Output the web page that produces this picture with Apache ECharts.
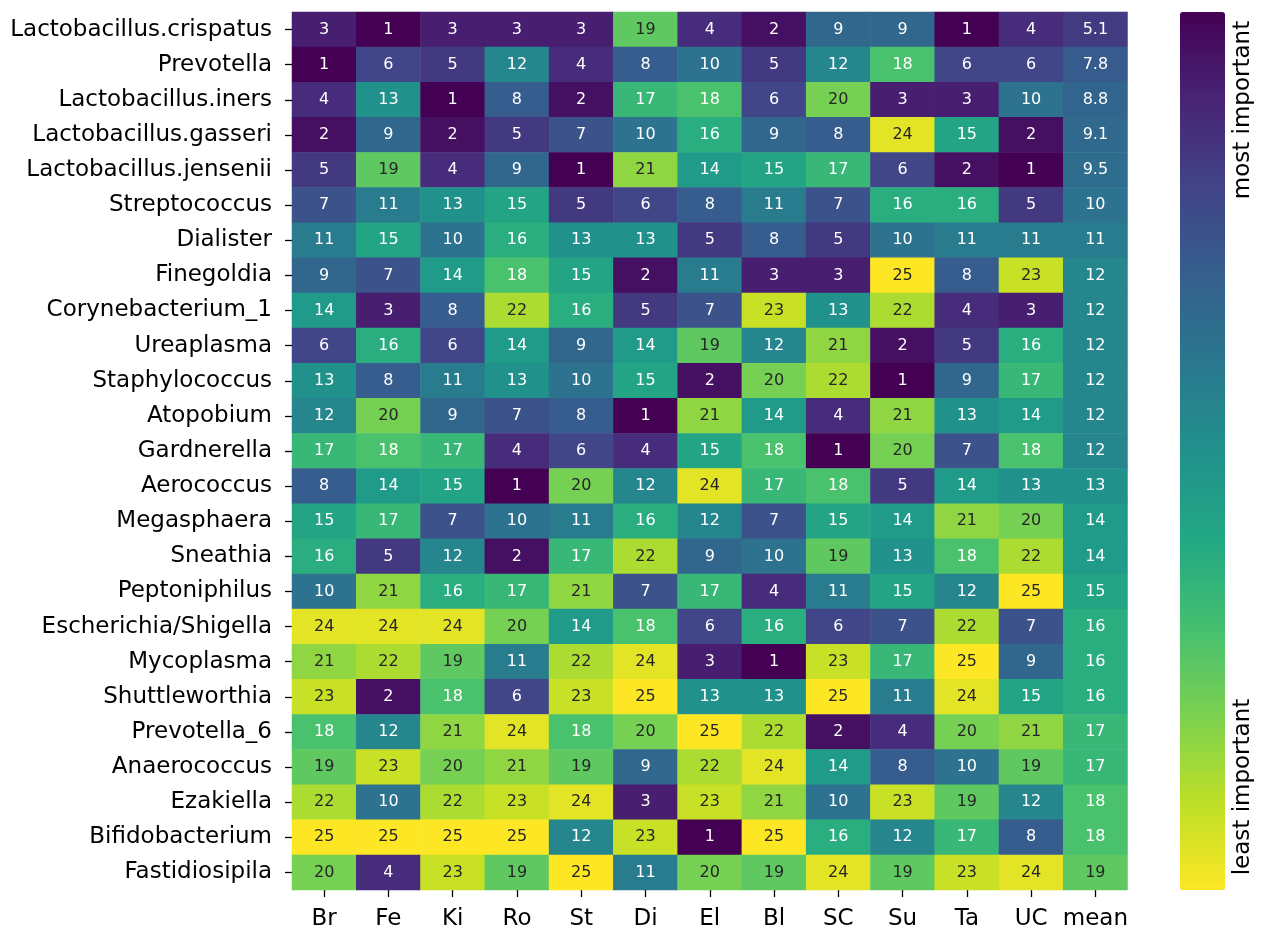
<!DOCTYPE html>
<html>
<head>
<meta charset="utf-8">
<title>Taxa importance ranks</title>
<script src="https://cdn.jsdelivr.net/npm/echarts@6/dist/echarts.min.js"></script>
<style>
  html, body { margin: 0; padding: 0; background: #ffffff; }
  #chart { width: 1263px; height: 931px; }
</style>
</head>
<body>
<div id="chart"></div>
<script>
// Taxa, listed from most to least important on average
const taxa = [
  'Lactobacillus.crispatus', 'Prevotella', 'Lactobacillus.iners', 'Lactobacillus.gasseri',
  'Lactobacillus.jensenii', 'Streptococcus', 'Dialister', 'Finegoldia', 'Corynebacterium_1',
  'Ureaplasma', 'Staphylococcus', 'Atopobium', 'Gardnerella', 'Aerococcus', 'Megasphaera',
  'Sneathia', 'Peptoniphilus', 'Escherichia/Shigella', 'Mycoplasma', 'Shuttleworthia',
  'Prevotella_6', 'Anaerococcus', 'Ezakiella', 'Bifidobacterium', 'Fastidiosipila'
];

// Study sites (columns), followed by the mean column
const sites = ['Br', 'Fe', 'Ki', 'Ro', 'St', 'Di', 'El', 'Bl', 'SC', 'Su', 'Ta', 'UC'];
const columns = sites.concat(['mean']);

// Importance rank of each taxon at each site (one row per taxon, columns follow `sites`)
const ranks = [
  [3, 1, 3, 3, 3, 19, 4, 2, 9, 9, 1, 4],
  [1, 6, 5, 12, 4, 8, 10, 5, 12, 18, 6, 6],
  [4, 13, 1, 8, 2, 17, 18, 6, 20, 3, 3, 10],
  [2, 9, 2, 5, 7, 10, 16, 9, 8, 24, 15, 2],
  [5, 19, 4, 9, 1, 21, 14, 15, 17, 6, 2, 1],
  [7, 11, 13, 15, 5, 6, 8, 11, 7, 16, 16, 5],
  [11, 15, 10, 16, 13, 13, 5, 8, 5, 10, 11, 11],
  [9, 7, 14, 18, 15, 2, 11, 3, 3, 25, 8, 23],
  [14, 3, 8, 22, 16, 5, 7, 23, 13, 22, 4, 3],
  [6, 16, 6, 14, 9, 14, 19, 12, 21, 2, 5, 16],
  [13, 8, 11, 13, 10, 15, 2, 20, 22, 1, 9, 17],
  [12, 20, 9, 7, 8, 1, 21, 14, 4, 21, 13, 14],
  [17, 18, 17, 4, 6, 4, 15, 18, 1, 20, 7, 18],
  [8, 14, 15, 1, 20, 12, 24, 17, 18, 5, 14, 13],
  [15, 17, 7, 10, 11, 16, 12, 7, 15, 14, 21, 20],
  [16, 5, 12, 2, 17, 22, 9, 10, 19, 13, 18, 22],
  [10, 21, 16, 17, 21, 7, 17, 4, 11, 15, 12, 25],
  [24, 24, 24, 20, 14, 18, 6, 16, 6, 7, 22, 7],
  [21, 22, 19, 11, 22, 24, 3, 1, 23, 17, 25, 9],
  [23, 2, 18, 6, 23, 25, 13, 13, 25, 11, 24, 15],
  [18, 12, 21, 24, 18, 20, 25, 22, 2, 4, 20, 21],
  [19, 23, 20, 21, 19, 9, 22, 24, 14, 8, 10, 19],
  [22, 10, 22, 23, 24, 3, 23, 21, 10, 23, 19, 12],
  [25, 25, 25, 25, 12, 23, 1, 25, 16, 12, 17, 8],
  [20, 4, 23, 19, 25, 11, 20, 19, 24, 19, 23, 24]
];

// Mean rank per taxon, as printed in the last column
const meanRank = [5.1, 7.8, 8.8, 9.1, 9.5, 10, 11, 12, 12, 12, 12, 12, 12,
                  13, 14, 14, 15, 16, 16, 16, 17, 17, 18, 18, 19];

// Colour bar end labels
const colorbarLabels = ['most important', 'least important'];

// Viridis palette, low rank (dark) to high rank (yellow)
const viridis = ['#440154', '#482475', '#414487', '#355f8d', '#2a788e', '#21918c',
                 '#22a884', '#44bf70', '#7ad151', '#bddf26', '#fde725'];

const FONT = 'DejaVu Sans';

function cell(x, y, v) {
  return {
    value: [x, y, v],
    label: { color: v >= 18.5 ? '#262626' : '#ffffff' }
  };
}

const cells = [];
ranks.forEach(function (row, y) {
  row.forEach(function (v, x) { cells.push(cell(x, y, v)); });
  cells.push(cell(sites.length, y, meanRank[y]));
});

const chart = echarts.init(document.getElementById('chart'), null, { renderer: 'canvas' });

chart.setOption({
  animation: false,
  backgroundColor: '#ffffff',
  textStyle: { fontFamily: FONT },
  grid: { left: 292, top: 12, right: 135.5, bottom: 41, containLabel: false },
  xAxis: {
    type: 'category',
    data: columns,
    position: 'bottom',
    axisLine: { show: false },
    axisTick: { show: true, alignWithLabel: true, length: 7, lineStyle: { color: '#000', width: 1.3 } },
    axisLabel: { color: '#000', fontSize: 23, fontFamily: FONT, margin: 18, interval: 0 },
    splitLine: { show: false }
  },
  yAxis: {
    type: 'category',
    data: taxa,
    inverse: true,
    axisLine: { show: false },
    axisTick: { show: true, alignWithLabel: true, length: 7, lineStyle: { color: '#000', width: 1.3 } },
    axisLabel: { color: '#000', fontSize: 23, fontFamily: FONT, margin: 20, interval: 0 },
    splitLine: { show: false }
  },
  visualMap: {
    type: 'continuous',
    min: 1,
    max: 25,
    orient: 'vertical',
    inverse: true,
    calculable: false,
    hoverLink: false,
    left: 1180,
    top: 12,
    padding: 0,
    itemWidth: 45,
    itemHeight: 878,
    text: null,
    inRange: { color: viridis }
  },
  series: [{
    type: 'heatmap',
    data: cells,
    label: {
      show: true,
      fontFamily: FONT,
      fontSize: 16,
      formatter: function (p) { return String(p.value[2]); }
    },
    itemStyle: { borderWidth: 0 },
    emphasis: { disabled: true }
  }],
  graphic: [
    {
      type: 'text',
      x: 1243, y: 110,
      rotation: Math.PI / 2,
      style: { text: colorbarLabels[0], fill: '#000', font: '23px "DejaVu Sans"', align: 'center', verticalAlign: 'middle' }
    },
    {
      type: 'text',
      x: 1243, y: 787,
      rotation: Math.PI / 2,
      style: { text: colorbarLabels[1], fill: '#000', font: '23px "DejaVu Sans"', align: 'center', verticalAlign: 'middle' }
    }
  ]
});
</script>
</body>
</html>
